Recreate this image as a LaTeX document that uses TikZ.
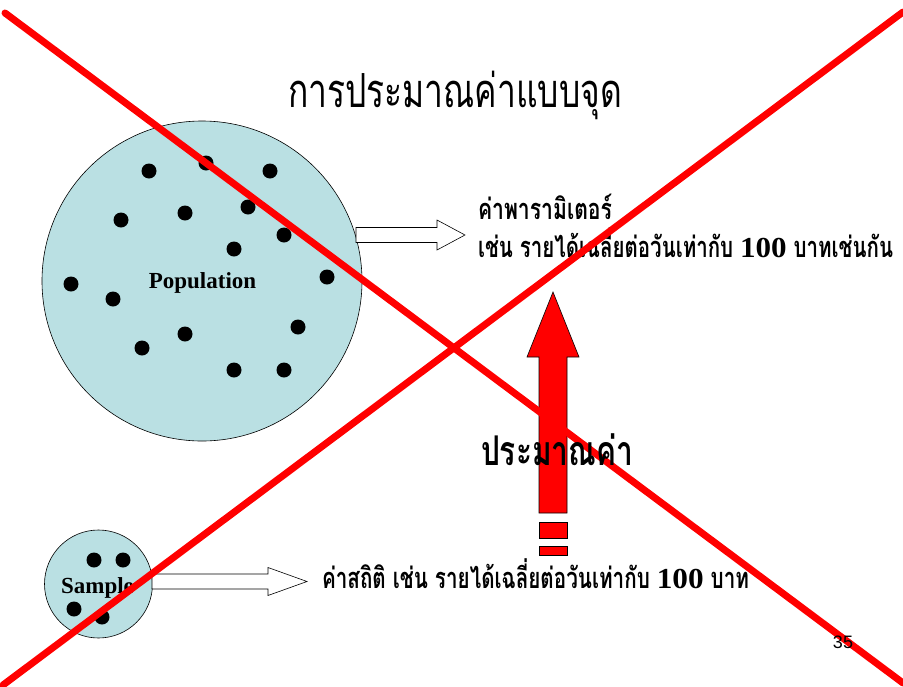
\documentclass[tikz,border=0pt]{standalone}
\usepackage{graphicx}
\usepackage{fontspec}
\usetikzlibrary{calc}
\setmainfont{Liberation Serif}
\newfontfamily\thaiN[Script=Thai, FakeStretch=0.66]{Loma}
\newfontfamily\tms{Liberation Serif}
\newfontfamily\arialf{Liberation Sans}
\definecolor{popfill}{RGB}{186,224,227}
\newcommand{\fs}[1]{\fontsize{#1pt}{#1pt}\selectfont}
\begin{document}
\begin{tikzpicture}[x=1pt,y=-1pt,
  dot/.style={circle,fill=black,inner sep=0pt,minimum size=15pt},
  lbl/.style={inner sep=0pt, outer sep=0pt},
  disk/.style={circle,draw=black,fill=popfill,line width=0.6pt,inner sep=0pt},
  xline/.style={draw=red, line width=7pt, line cap=round},
  hollow/.style={draw=black, fill=white, line width=0.6pt},
  redarrow/.style={draw=black, fill=red, line width=0.6pt}]
\useasboundingbox (0,0) rectangle (903,686);
\fill[white] (0,0) rectangle (903,686);

% title
\node[lbl, anchor=base] (title) at (455,107) {\resizebox{334pt}{\height}{\thaiN\fs{47}การประมาณค่าแบบจุด}};

% population
\node[disk, minimum size=320pt] (pop) at (202,281) {};
\foreach \x/\y [count=\i] in {149/171,206/163,270/171,121/220,185/213,248/207,284/235,234/249,71/284,113/299,327/277,185/334,142/348,298/327,234/370,284/370}
  \node[dot] (pd\i) at (\x,\y) {};
\node[lbl, anchor=base] (poplbl) at (202.5,288) {\fs{23}\bfseries Population};

% sample
\node[disk, minimum size=108pt] (smp) at (98.5,584) {};
\foreach \x/\y [count=\i] in {94/560,123/560,74/609,102/617}
  \node[dot] (sd\i) at (\x,\y) {};
\node[lbl, anchor=base] (smplbl) at (97.5,593) {\fs{23}\bfseries Sample};

% hollow arrows
\coordinate (pa) at (356,235);
\coordinate (pb) at (465,235);
\draw[hollow] ($(pa)+(0,-7.5)$) -- ($(pb)+(-28,-7.5)$) -- ($(pb)+(-28,-15)$) -- (pb)
  -- ($(pb)+(-28,15)$) -- ($(pb)+(-28,7.5)$) -- ($(pa)+(0,7.5)$) -- cycle;
\coordinate (sa) at (152,581.5);
\coordinate (sb) at (307,581.5);
\draw[hollow] ($(sa)+(0,-7.5)$) -- ($(sb)+(-39,-7.5)$) -- ($(sb)+(-39,-14)$) -- (sb)
  -- ($(sb)+(-39,14)$) -- ($(sb)+(-39,7.5)$) -- ($(sa)+(0,7.5)$) -- cycle;

% texts
\node[lbl, anchor=base west] (param) at (478,219) {\resizebox{134pt}{\height}{\thaiN\fs{29}\bfseries ค่าพารามิเตอร์}};
\node[lbl, anchor=base west] (param2) at (478,257) {\resizebox{415pt}{\height}{\thaiN\fs{29}\bfseries เช่น รายได้เฉลี่ยต่อวันเท่ากับ {\tms 100} บาทเช่นกัน}};
\node[lbl, anchor=base west] (stat) at (322,588) {\resizebox{427pt}{\height}{\thaiN\fs{29}\bfseries ค่าสถิติ เช่น รายได้เฉลี่ยต่อวันเท่ากับ {\tms 100} บาท}};

% red arrow
\draw[redarrow] (539,513) -- (539,357) -- (527,357) -- (553,292) -- (579,357) -- (567,357) -- (567,513) -- cycle;
\draw[redarrow] (539,522) rectangle (567,538);
\draw[redarrow] (539,546) rectangle (567,555);

% red X
\coordinate (c1) at (5,13);
\coordinate (c2) at (903,683);
\coordinate (c3) at (3,685);
\coordinate (c4) at (903,12);
\draw[xline] (c1) -- (c2);
\draw[xline] (c3) -- (c4);

% page number
\node[lbl, anchor=base] (pg) at (843,648) {\arialf\fs{18}35};

\node[lbl, anchor=base] (est) at (557,465) {\resizebox{152pt}{\height}{\thaiN\fs{41}\bfseries ประมาณค่า}};
\end{tikzpicture}
\end{document}
